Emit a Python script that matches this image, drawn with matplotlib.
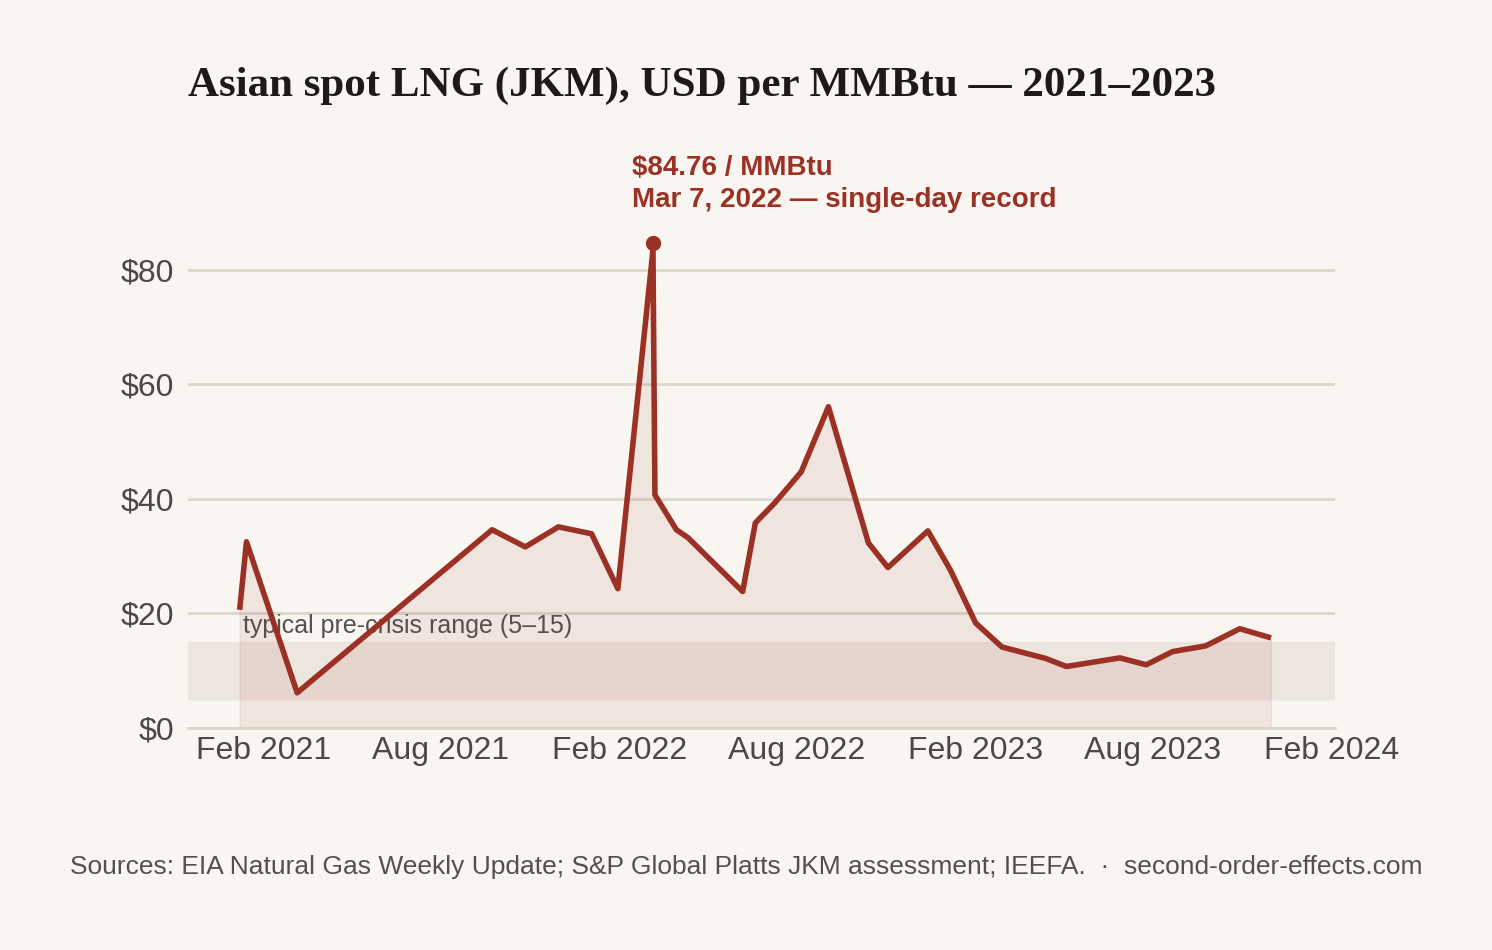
import matplotlib
matplotlib.use('Agg')
import matplotlib.pyplot as plt
import matplotlib.dates as mdates
import numpy as np

plt.rcParams['font.family'] = ['Liberation Sans', 'DejaVu Sans']

dates = ['2021-01-07', '2021-01-14', '2021-03-07', '2021-09-23', '2021-10-27', '2021-11-30',
         '2022-01-03', '2022-01-30', '2022-03-07', '2022-03-09', '2022-03-31', '2022-04-12',
         '2022-06-07', '2022-06-20', '2022-07-10', '2022-08-06', '2022-09-03', '2022-10-14',
         '2022-11-03', '2022-12-14', '2023-01-06', '2023-02-01', '2023-02-28', '2023-04-14',
         '2023-05-05', '2023-06-29', '2023-07-26', '2023-08-22', '2023-09-25', '2023-10-30',
         '2023-12-01']
prices = [20.6, 32.5, 6.1, 34.6, 31.6, 35.1,
          33.9, 24.3, 83.5, 40.7, 34.6, 33.2,
          23.8, 35.8, 39.3, 44.7, 56.1, 32.3,
          28.0, 34.4, 27.6, 18.3, 14.1, 12.1,
          10.7, 12.2, 11.0, 13.3, 14.3, 17.3,
          15.7]
record_date = '2022-03-07'
record_value = 84.76
band = (5, 15)
yticks = [0, 20, 40, 60, 80]
xticks = ['2021-02-01', '2021-08-01', '2022-02-01', '2022-08-01', '2023-02-01', '2023-08-01', '2024-02-01']

bg = '#f9f6f1'
red = '#9b3024'
x = np.array(dates, dtype='datetime64[D]')

fig = plt.figure(figsize=(14.92, 9.5), dpi=100, facecolor=bg)
ax = fig.add_axes([0.126, 0.234, 0.769, 0.542], facecolor=bg)

ax.axhspan(band[0], band[1], color='#e8e0d6', alpha=0.7, zorder=1)
ax.text(np.datetime64('2021-01-10'), 15.6, 'typical pre-crisis range (5–15)', fontsize=18,
        color='#55504b', va='bottom', zorder=2)
ax.fill_between(x, 0, prices, color=red, alpha=0.09, lw=1, zorder=2)
ax.plot(x, prices, color=red, lw=4, zorder=3, solid_capstyle='butt')
rx = np.datetime64(record_date)
ax.plot([rx], [record_value], 'o', color=red, ms=10, zorder=4, clip_on=False)
ax.text(rx - np.timedelta64(22, 'D'), 90, '$84.76 / MMBtu\nMar 7, 2022 — single-day record',
        color=red, fontsize=20, fontweight='bold', va='bottom', ha='left', linespacing=1.3)

ax.set_xlim(np.datetime64('2020-11-15'), np.datetime64('2024-02-05'))
ax.set_ylim(0, 90)
ax.set_yticks(yticks)
ax.set_yticklabels([f'${v}' for v in yticks])
ax.set_xticks(np.array(xticks, dtype='datetime64[D]'))
ax.xaxis.set_major_formatter(mdates.DateFormatter('%b %Y'))
ax.grid(axis='y', color='#ddd6ca', lw=2)
ax.set_axisbelow(True)
for s in ['top', 'right', 'left']:
    ax.spines[s].set_visible(False)
ax.spines['bottom'].set_color('#ddd6ca')
ax.spines['bottom'].set_linewidth(2)
ax.tick_params(length=0, labelsize=23, colors='#4d4843', pad=6)
ax.tick_params(axis='y', pad=10)

fig.text(0.126, 0.91, 'Asian spot LNG (JKM), USD per MMBtu — 2021–2023', fontsize=31,
         fontweight='bold', family='Liberation Serif', color='#1e1a17', va='center')
fig.text(0.5, 0.087, 'Sources: EIA Natural Gas Weekly Update; S&P Global Platts JKM assessment; IEEFA.  ·  second-order-effects.com',
         fontsize=19, color='#55504b', ha='center', va='center')

fig.savefig('out.png', facecolor=bg)
